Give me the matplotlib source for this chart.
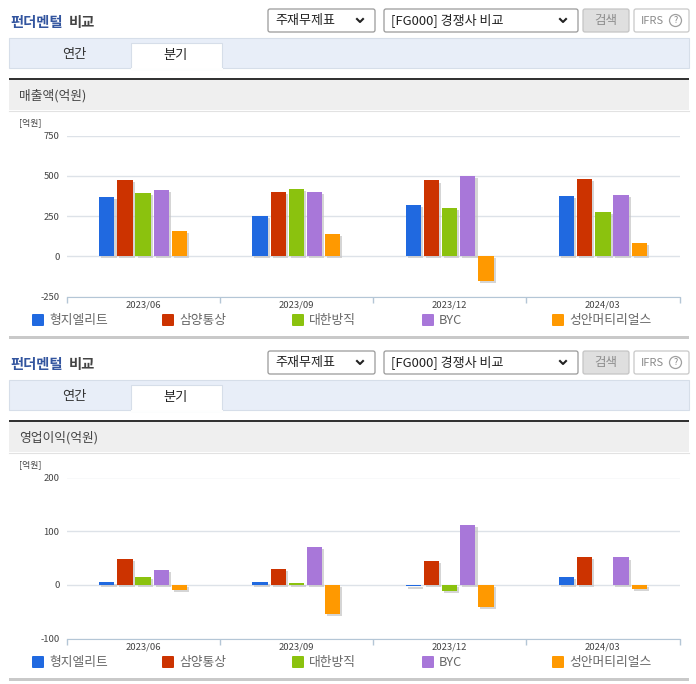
import matplotlib
matplotlib.use('Agg')
import matplotlib.pyplot as plt
import matplotlib.patheffects as pe
from matplotlib.patches import FancyBboxPatch, Rectangle, Circle
import numpy as np

plt.rcParams['font.family'] = ['Noto Sans CJK KR', 'DejaVu Sans']

W, H = 696, 684

periods = ['2023/06', '2023/09', '2023/12', '2024/03']
companies = ['형지엘리트', '삼양통상', '대한방직', 'BYC', '성안머티리얼스']
colors = ['#2069e0', '#cc3300', '#8bc20e', '#a877d9', '#ff9900']

# 매출액, one list per company
sales_hyungji = [371, 252, 321, 377]
sales_samyang = [477, 402, 471, 483]
sales_daehan = [396, 421, 302, 277]
sales_byc = [415, 402, 498, 383]
sales_seongan = [158, 140, -150, 83]

# 영업이익
profit_hyungji = [6, 6, -3, 15]
profit_samyang = [49, 30, 45, 52]
profit_daehan = [15, 3, -12, 0]
profit_byc = [28, 71, 112, 51]
profit_seongan = [-9, -55, -42, -7]

sales_ticks = [-250, 0, 250, 500, 750]
profit_ticks = [-100, 0, 100, 200]


def px_axes(fig, left, top, right, bottom):
    return fig.add_axes([left / W, 1 - bottom / H, (right - left) / W, (bottom - top) / H])


def draw_header(bg, dy, band_title):
    """Draw the page chrome of one section, dy is its pixel offset."""
    bg.text(10, 23.5 + dy, '펀더멘털', color='#33559f', fontsize=10.3, fontweight='bold', va='center')
    bg.text(69, 23.5 + dy, '비교', color='#444444', fontsize=10.3, fontweight='bold', va='center')

    for x0, x1, label in [(268, 375, '주재무제표'), (384, 578, '[FG000] 경쟁사 비교')]:
        bg.add_patch(FancyBboxPatch((x0 + 2, 11 + dy), x1 - x0 - 4, 19,
                                    boxstyle='round,pad=2', fc='white', ec='#999999', lw=0.9))
        bg.text(x0 + 7, 20.5 + dy, label, color='#222222', fontsize=9.4, va='center')
        ax, ay = x1 - 15, 20.5 + dy
        bg.plot([ax - 3, ax, ax + 3], [ay - 1.5, ay + 1.5, ay - 1.5], color='#222222', lw=1.5)

    bg.add_patch(FancyBboxPatch((585, 11 + dy), 42, 19, boxstyle='round,pad=2',
                                fc='#dfdfdf', ec='#c4c4c4', lw=0.9))
    bg.text(606, 20.5 + dy, '검색', color='#8c8c8c', fontsize=9, ha='center', va='center')
    bg.add_patch(FancyBboxPatch((636, 11 + dy), 51, 19, boxstyle='round,pad=2',
                                fc='white', ec='#c8c8c8', lw=0.9))
    bg.text(641, 20.5 + dy, 'IFRS', color='#8c8c8c', fontsize=8, va='center')
    bg.add_patch(Circle((675.5, 20.5 + dy), 6, fc='white', ec='#a0a0a0', lw=0.9))
    bg.text(675.5, 20.5 + dy, '?', color='#888888', fontsize=6.5, ha='center', va='center')

    bg.add_patch(Rectangle((9, 38 + dy), 680, 30, fc='#e8eef8', ec='#d6dee9', lw=0.8))
    bg.add_patch(Rectangle((131, 43 + dy), 91, 25.5, fc='white', ec='#d6dee9', lw=0.8))
    bg.plot([131.5, 221.5], [68.5 + dy, 68.5 + dy], color='white', lw=1.4)
    bg.text(74, 54.5 + dy, '연간', color='#333333', fontsize=9.5, ha='center', va='center')
    bg.text(176, 55 + dy, '분기', color='#222222', fontsize=9.5, ha='center', va='center')

    bg.add_patch(Rectangle((9, 80 + dy), 680, 30, fc='#efefef', ec='none'))
    bg.plot([9, 689], [110.5 + dy, 110.5 + dy], color='#e2e2e2', lw=0.8)
    bg.add_patch(Rectangle((9, 78 + dy), 680, 2, fc='#333333', ec='none'))
    bg.text(19, 95.5 + dy, band_title, color='#444444', fontsize=9.2, va='center')
    bg.text(19, 122.5 + dy, '[억원]', color='#444444', fontsize=6.4, va='center')

    bg.add_patch(Rectangle((9, 336 + dy), 680, 2.5, fc='#c9c9c9', ec='none'))


def draw_legend(bg, dy):
    xs = [32, 162, 292, 422, 552]
    for x, name, color in zip(xs, companies, colors):
        bg.add_patch(FancyBboxPatch((x + 1, 315 + dy), 10, 10, boxstyle='round,pad=1',
                                    fc=color, ec='none'))
        bg.text(x + 17, 320.5 + dy, name, color='#666666', fontsize=9.2, va='center')


def draw_chart(fig, series, ticks, top, bottom):
    ax = px_axes(fig, 66.5, top, 679.5, bottom)
    ax.patch.set_alpha(0)
    x = np.arange(len(periods)) + 0.5
    bar_w = 0.1
    pitch = 0.1185
    for i, (vals, color) in enumerate(zip(series, colors)):
        ax.bar(x + (i - 2) * pitch, vals, width=bar_w, color=color, zorder=3,
               path_effects=[pe.SimplePatchShadow(offset=(1.5, -1.5), shadow_rgbFace='#c4c4c4', alpha=0.7),
                             pe.Normal()])

    ax.set_xlim(0, len(periods))
    ax.set_ylim(ticks[0], ticks[-1])
    ax.set_yticks(ticks)
    ax.set_yticklabels([str(t) for t in ticks], fontsize=6.8, color='#444444')
    ax.tick_params(axis='y', length=0, pad=5)
    ax.grid(axis='y', color='#dde2e8', lw=1, zorder=0)

    ax.set_xticks(np.arange(len(periods) + 1))
    ax.set_xticklabels([])
    ax.set_xticks(x, minor=True)
    ax.set_xticklabels(periods, minor=True, fontsize=6.8, color='#444444')
    ax.tick_params(axis='x', which='major', length=4, color='#b4c6d6', width=1)
    ax.tick_params(axis='x', which='minor', length=0, pad=3)

    for side in ['top', 'right', 'left']:
        ax.spines[side].set_visible(False)
    ax.spines['bottom'].set_color('#b4c6d6')
    return ax


def main():
    fig = plt.figure(figsize=(W / 100, H / 100), dpi=100, facecolor='white')
    bg = fig.add_axes([0, 0, 1, 1])
    bg.set_xlim(0, W)
    bg.set_ylim(H, 0)
    bg.axis('off')

    draw_header(bg, 0, '매출액(억원)')
    draw_legend(bg, 0)
    draw_header(bg, 342, '영업이익(억원)')
    draw_legend(bg, 342)

    draw_chart(fig, [sales_hyungji, sales_samyang, sales_daehan, sales_byc, sales_seongan],
               sales_ticks, 135.5, 296.7)
    draw_chart(fig, [profit_hyungji, profit_samyang, profit_daehan, profit_byc, profit_seongan],
               profit_ticks, 477.5, 638.5)

    fig.savefig('out.png', dpi=100)
    plt.close(fig)


if __name__ == "__main__":
    main()
